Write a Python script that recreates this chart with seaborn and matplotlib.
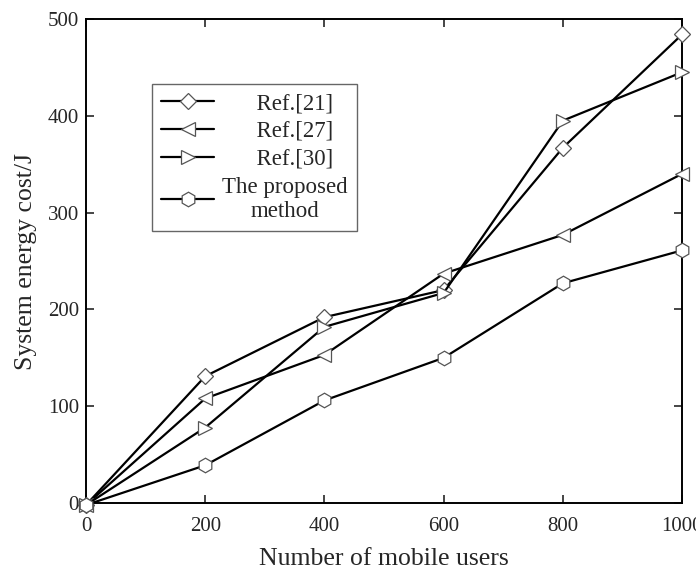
import matplotlib
matplotlib.use("Agg")
import matplotlib.pyplot as plt
import seaborn as sns
import pandas as pd

# Energy cost (J) versus number of mobile users
users = [0, 200, 400, 600, 800, 1000]
ref21 = [-2, 131, 192, 220, 367, 484]
ref27 = [-2, 108, 153, 237, 277, 340]
ref30 = [-2, 78, 182, 217, 395, 445]
proposed = [-2, 39, 106, 150, 227, 261]

series_names = ["Ref.[21]", "Ref.[27]", "Ref.[30]", "The proposed\nmethod"]
series_values = [ref21, ref27, ref30, proposed]
markers = ["D", "<", ">", "h"]

x_ticks = [0, 200, 400, 600, 800, 1000]
y_ticks = [0, 100, 200, 300, 400, 500]

sns.set_style("ticks")
plt.rcParams["font.family"] = ["Liberation Serif", "DejaVu Serif"]

frames = []
for name, vals in zip(series_names, series_values):
    frames.append(pd.DataFrame({"users": users, "cost": vals, "method": name}))
df = pd.concat(frames, ignore_index=True)

fig = plt.figure(figsize=(6.96, 5.71), dpi=100)
ax = fig.add_axes([0.1236, 0.119, 0.8564, 0.8478])

for name, mk in zip(series_names, markers):
    sub = df[df["method"] == name]
    sns.lineplot(data=sub, x="users", y="cost", ax=ax, color="black",
                 linewidth=1.6, marker=mk, markersize=10.5 if mk != "D" else 8.5,
                 markerfacecolor="white", markeredgecolor="#555555",
                 markeredgewidth=0.9, label=name, clip_on=False, zorder=3)

ax.set_xlim(0, 1000)
ax.set_ylim(0, 500)
ax.set_xticks(x_ticks)
ax.set_yticks(y_ticks)
ax.tick_params(direction="in", length=6, width=1.2, labelsize=15,
               top=True, right=True)
ax.tick_params(axis="x", pad=10)
ax.tick_params(axis="y", pad=5)
for sp in ax.spines.values():
    sp.set_linewidth(1.4)
    sp.set_color("black")

ax.set_xlabel("Number of mobile users", fontsize=18.5, labelpad=9)
ax.set_ylabel("System energy cost/J", fontsize=18.5, labelpad=8)

handles, labels = ax.get_legend_handles_labels()
padded = ["      " + l if "\n" not in l else l for l in labels]
leg = ax.legend(handles, padded, loc="upper left",
                bbox_to_anchor=(0.111, 0.866), fontsize=16.5, frameon=True,
                fancybox=False, edgecolor="#666666", framealpha=1,
                handlelength=2.3, handletextpad=0.35, labelspacing=0.3,
                borderpad=0.4, borderaxespad=0)
leg.get_frame().set_linewidth(1.0)
for t in leg.get_texts():
    t.set_multialignment("center")

fig.savefig("out.png", dpi=100)
